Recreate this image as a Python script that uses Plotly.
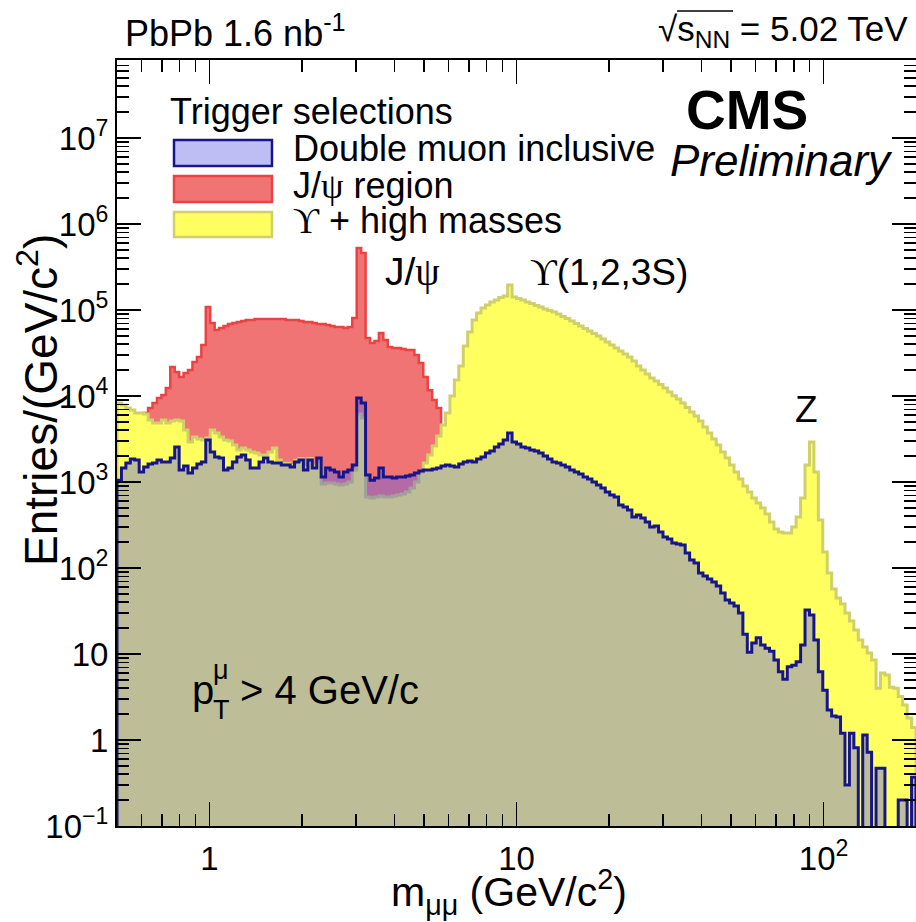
import numpy as np
import plotly.graph_objects as go

# ---------------- data (entries per bin, 180 log-uniform bins 0.5-200 GeV) ----------------
X_MIN, X_MAX, N_BINS = 0.5, 200.0, 180

double_muon = [
    1050, 1455, 1665, 1850, 1800, 1307, 1494, 1620, 1665, 1800,
    1710, 1710, 1900, 2550, 1380, 1535, 1273, 1455, 1620, 1710,
    3080, 2230, 1955, 1900, 1380, 1455, 1710, 1955, 2060, 1800,
    1455, 1455, 1710, 1900, 1710, 1665, 1665, 1577, 1577, 1494,
    1710, 1800, 1380, 1800, 1455, 1900, 1143, 1455, 1380, 1307,
    1143, 1307, 1380, 1577, 9480, 8290, 1206, 1050, 1113, 1455,
    1143, 1143, 1113, 1143, 1143, 1175, 1206, 1273, 1343, 1380,
    1380, 1416, 1455, 1535, 1577, 1535, 1494, 1620, 1710, 1755,
    1710, 1850, 1955, 2170, 2290, 2550, 2770, 3080, 3710, 2920,
    2770, 2550, 2480, 2350, 2290, 2170, 2005, 1850, 1710, 1665,
    1577, 1494, 1380, 1307, 1240, 1143, 1084, 1000, 923, 851,
    765, 706, 670, 541, 512, 472, 392, 413, 381, 343,
    300, 308, 262, 229, 217, 195, 190, 185, 149, 124,
    114, 87.5, 80.7, 74.5, 68.7, 61.8, 51.2, 42.5, 39.2, 36.2,
    30.0, 17.0, 10.5, 13.4, 15.4, 12.7, 11.7, 10.8, 8.5, 6.2,
    5.1, 7.1, 7.4, 8.1, 12.7, 32.5, 28.4, 14.5, 6.2, 3.8,
    2.23, 1.9, 1.85, 1.2, 0.30, 1.2, 0.81, 0, 1.14, 0.72,
    0, 0.47, 0.47, 0, 0, 0, 0.20, 0.20, 0, 0.37,
]

# J/psi-region trigger: only the first 75 bins are filled
jpsi_region = [
    4000, 4000, 4000, 4000, 4000, 5550, 6340, 7250, 8290, 9480,
    10280, 12400, 21700, 19000, 16600, 18500, 20100, 24900, 28400, 39200,
    108400, 70600, 58500, 61800, 65200, 68700, 70600, 72400, 74500, 76500,
    76500, 78600, 78600, 78600, 78600, 78600, 78600, 78600, 76500, 76500,
    76500, 74500, 72400, 72400, 70600, 68700, 68700, 67000, 65200, 63400,
    63400, 61800, 63400, 80800, 526000, 460000, 47200, 41300, 43600, 54100,
    44800, 37100, 36200, 36200, 35200, 34300, 34300, 30000, 24200, 16600,
    11700, 8980, 7250, 4030, 1050,
]

upsilon_high = [
    8300, 7850, 7250, 6870, 6340, 6340, 6180, 5260, 4850, 4850,
    5260, 4850, 5120, 5260, 5120, 4030, 2920, 3340, 3160, 3080,
    3250, 4030, 3710, 3340, 3080, 3000, 2690, 2350, 2480, 2350,
    2230, 2170, 2060, 2060, 2230, 2480, 1800, 1650, 1650, 1560,
    1790, 1880, 1450, 1880, 1520, 1710, 948, 973, 973, 948,
    923, 948, 1000, 1380, 6180, 5550, 670, 652, 670, 687,
    670, 670, 687, 706, 725, 765, 851, 1000, 1307, 1665,
    2060, 2620, 3430, 4600, 6340, 10000, 15350, 22300, 38100, 55500,
    76500, 92300, 105500, 114300, 123900, 130700, 139700, 145500, 195400, 141600,
    136100, 130700, 123900, 119000, 112800, 108400, 102800, 98700, 94800, 89800,
    84000, 79600, 74500, 69700, 65200, 61000, 57000, 53300, 49900, 46000,
    42500, 39200, 36200, 33400, 30800, 28400, 25500, 22300, 20100, 18000,
    16200, 14900, 13600, 12400, 11100, 10100, 9230, 8290, 7350, 6510,
    5850, 5120, 4360, 3710, 3160, 2690, 2230, 1900, 1577, 1307,
    1084, 898, 765, 652, 570, 499, 425, 343, 284, 262,
    255, 255, 300, 392, 652, 1577, 2920, 1307, 361, 153,
    87.5, 57, 44.8, 38.1, 30, 24.2, 19, 14.5, 12.1, 10.3,
    8.5, 4.0, 6.0, 5.7, 4.1, 4.0, 3.2, 2.55, 1.8, 1.4,
]

x_tick_vals = [1, 10, 100]
x_tick_text = ["1", "10", "10<sup>2</sup>"]
y_tick_vals = [0.1, 1, 10, 100, 1e3, 1e4, 1e5, 1e6, 1e7]
y_tick_text = ["10<sup>\u22121</sup>", "1", "10", "10<sup>2</sup>", "10<sup>3</sup>",
               "10<sup>4</sup>", "10<sup>5</sup>", "10<sup>6</sup>", "10<sup>7</sup>"]

# ---------------- geometry ----------------
W, H = 916, 922
L, R, T, B = 117, 0, 60, 96
PW, PH = W - L - R, H - T - B
Y_LOG_MIN, Y_LOG_MAX = -1.0, 7.907

edges = np.logspace(np.log10(X_MIN), np.log10(X_MAX), N_BINS + 1)
FLOOR = 1e-4


def step_poly(vals):
    xs, ys = [edges[0]], [FLOOR]
    for k, v in enumerate(vals):
        v = v if v > 0 else FLOOR
        xs += [edges[k], edges[k + 1]]
        ys += [v, v]
    xs.append(edges[len(vals)])
    ys.append(FLOOR)
    return xs, ys


def px(x):
    return (x - L) / PW


def py(y):
    return (H - B - y) / PH


FONT = "Liberation Sans, Arial, Helvetica, sans-serif"
SERIF = "Liberation Serif, DejaVu Serif, serif"

RED_FILL, RED_LINE = "rgb(240,116,116)", "rgb(236,66,66)"
YEL_FILL, YEL_LINE = "rgb(255,255,96)", "rgb(208,208,104)"
BLU_FILL, BLU_LINE = "rgba(94,94,230,0.41)", "rgb(22,22,138)"

fig = go.Figure()
for vals, fc, lc, lw in [(jpsi_region, RED_FILL, RED_LINE, 2.5),
                         (upsilon_high, YEL_FILL, YEL_LINE, 3),
                         (double_muon, BLU_FILL, BLU_LINE, 3)]:
    xs, ys = step_poly(vals)
    fig.add_trace(go.Scatter(x=xs, y=ys, mode="lines", fill="toself", fillcolor=fc,
                             line=dict(color=lc, width=lw), hoverinfo="skip",
                             showlegend=False))

x_minor = [v * d for d in (0.1, 1, 10, 100) for v in range(2, 10)]
x_minor = [v for v in x_minor if X_MIN <= v <= X_MAX]
y_minor = [v * 10.0 ** d for d in range(-1, 8) for v in range(2, 10)]

axis_common = dict(showline=True, linecolor="black", linewidth=2, mirror="allticks",
                   ticks="inside", ticklen=24, tickwidth=1.5, tickcolor="black",
                   showgrid=False, zeroline=False,
                   tickfont=dict(family=FONT, size=33, color="black"))

fig.update_xaxes(type="log", range=[np.log10(X_MIN), np.log10(X_MAX)],
                 tickvals=x_tick_vals, ticktext=x_tick_text, ticklabelstandoff=2,
                 minor=dict(ticks="inside", ticklen=12, tickwidth=1.5, tickcolor="black",
                            tickvals=x_minor),
                 **axis_common)
fig.update_yaxes(type="log", range=[Y_LOG_MIN, Y_LOG_MAX],
                 tickvals=y_tick_vals, ticktext=y_tick_text, ticklabelstandoff=0,
                 minor=dict(ticks="inside", ticklen=12, tickwidth=1.5, tickcolor="black",
                            tickvals=y_minor),
                 **axis_common)

ann = []


def text(x, y, s, size=34, xanchor="left", yanchor="middle", family=FONT, angle=0):
    ann.append(dict(x=px(x), y=py(y), xref="paper", yref="paper", text=s, showarrow=False,
                    xanchor=xanchor, yanchor=yanchor, textangle=angle,
                    font=dict(family=family, size=size, color="black")))


psi = "<span style='font-family:%s'>\u03c8</span>" % SERIF
ups = "<span style='font-family:%s'>\u03d2</span>" % SERIF

text(123, 31, "PbPb 1.6 nb<sup>-1</sup>", size=36)
text(910, 31, "\u221as<sub>NN</sub> = 5.02 TeV", size=35, xanchor="right")
text(684, 110, "<b>CMS</b>", size=55)
text(668, 160, "<i>Preliminary</i>", size=44)
text(168, 111, "Trigger selections", size=36)
text(291, 149, "Double muon inclusive", size=36)
text(291, 185, "J/" + psi + " region", size=36)
text(291, 220, ups + " + high masses", size=36)
text(383, 272, "J/" + psi, size=39)
text(528, 272, ups + "(1,2,3S)", size=37)
text(806, 410, "Z", size=37, xanchor="center")
text(190, 690, "p", size=40)
text(211, 670, "\u03bc", size=27)
text(211, 710, "T", size=27)
text(238, 690, "> 4 GeV/c", size=40)
text(509, 892, "m<sub>\u03bc\u03bc</sub> (GeV/c<sup>2</sup>)", size=41, xanchor="center")
text(38, 400, "Entries/(GeV/c<sup>2</sup>)", size=46, xanchor="center", angle=-90)

shapes = []
for (y0, y1, fc, lc) in [(140, 166, "rgb(190,190,245)", BLU_LINE),
                         (176, 202, RED_FILL, RED_LINE),
                         (212, 237, YEL_FILL, YEL_LINE)]:
    shapes.append(dict(type="rect", xref="paper", yref="paper", x0=px(174), x1=px(272),
                       y0=py(y1), y1=py(y0), fillcolor=fc, line=dict(color=lc, width=2.5)))
# overline of the square-root sign
shapes.append(dict(type="line", xref="paper", yref="paper", x0=px(677), x1=px(733),
                   y0=py(11), y1=py(11), line=dict(color="black", width=1.5)))

fig.update_layout(width=W, height=H, margin=dict(l=L, r=R, t=T, b=B, autoexpand=False),
                  paper_bgcolor="white", plot_bgcolor="white", showlegend=False,
                  annotations=ann, shapes=shapes, font=dict(family=FONT))

fig.write_html("out.html", config={"displayModeBar": False, "staticPlot": True},
               post_script="document.body.style.margin='0';")
